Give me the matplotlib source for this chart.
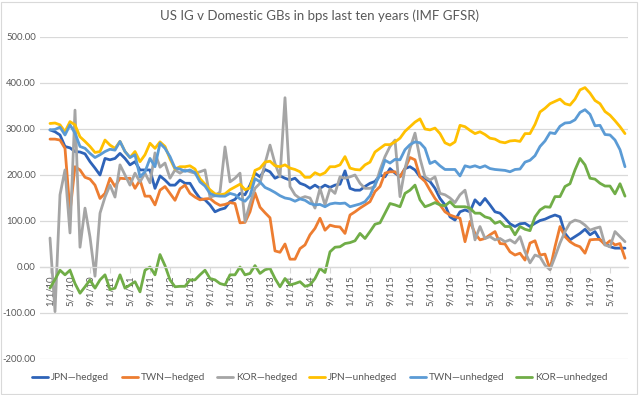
import matplotlib
matplotlib.use("Agg")
import matplotlib.pyplot as plt
import pandas as pd
from matplotlib.patches import Rectangle

plt.rcParams['font.family'] = ['Lato', 'DejaVu Sans']

dates = pd.date_range('2010-01-01', periods=116, freq='MS')

jpn_hedged = [298, 294, 287, 262, 259, 251, 250, 246, 229, 215, 200, 236, 233, 236, 247, 236, 222, 229, 211, 211,
              211, 171, 198, 189, 178, 178, 189, 182, 182, 164, 149, 146, 135, 120, 125, 128, 142, 147, 160, 157,
              178, 204, 196, 212, 207, 193, 198, 193, 189, 193, 182, 178, 171, 178, 171, 178, 173, 178, 180, 209,
              171, 167, 167, 175, 182, 186, 200, 196, 214, 204, 196, 214, 218, 211, 196, 193, 186, 171, 149, 135,
              109, 102, 120, 124, 120, 146, 135, 149, 135, 120, 117, 106, 94, 88, 94, 95, 88, 95, 101, 104,
              109, 113, 109, 73, 59, 66, 73, 82, 70, 77, 59, 51, 44, 41, 41, 41]

twn_hedged = [278, 278, 276, 258, 120, 218, 211, 195, 191, 178, 149, 160, 193, 175, 193, 192, 193, 171, 189, 154,
              154, 135, 167, 175, 160, 145, 170, 178, 160, 152, 146, 148, 149, 140, 134, 136, 140, 138, 96, 97,
              120, 161, 130, 118, 107, 35, 32, 50, 17, 17, 40, 48, 70, 84, 106, 80, 91, 88, 87, 73,
              113, 120, 128, 135, 142, 164, 175, 204, 207, 207, 196, 214, 238, 233, 196, 186, 167, 149, 135, 120,
              113, 109, 106, 55, 99, 73, 59, 62, 70, 77, 51, 50, 33, 26, 30, 15, 52, 57, 26, 28,
              -5, 44, 88, 66, 55, 48, 44, 30, 59, 60, 60, 48, 57, 48, 51, 19]

kor_hedged = [63, -97, 157, 211, 74, 341, 43, 128, 65, -20, 117, 152, 178, 152, 222, 200, 178, 204, 185, 204,
              183, 248, 217, 226, 193, 211, 204, 211, 207, 204, 207, 211, 152, 155, 163, 261, 185, 193, 204, 99,
              138, 171, 182, 225, 265, 225, 196, 368, 175, 157, 149, 153, 150, 128, 171, 135, 170, 160, 196, 193,
              196, 200, 182, 171, 171, 175, 211, 240, 262, 276, 153, 214, 258, 291, 236, 196, 189, 196, 160, 157,
              150, 140, 157, 167, 120, 59, 88, 62, 66, 59, 62, 55, 59, 52, 66, 33, 9, 26, 22, 4,
              -6, 22, 52, 77, 96, 102, 99, 91, 80, 84, 87, 48, 44, 77, 66, 55]

jpn_unhedged = [312, 313, 309, 294, 316, 309, 283, 273, 262, 249, 251, 276, 265, 258, 273, 251, 238, 251, 229, 244,
                269, 258, 272, 262, 235, 213, 218, 218, 220, 213, 192, 180, 168, 159, 157, 159, 168, 174, 180, 168,
                172, 210, 215, 228, 230, 220, 218, 222, 215, 212, 207, 195, 195, 205, 200, 205, 218, 218, 222, 240,
                215, 212, 211, 222, 228, 250, 258, 266, 266, 272, 280, 295, 305, 315, 322, 300, 298, 302, 290, 270,
                265, 272, 308, 305, 297, 290, 294, 288, 280, 278, 272, 270, 274, 275, 273, 290, 290, 310, 337, 345,
                355, 360, 365, 355, 352, 365, 385, 390, 378, 362, 355, 338, 330, 318, 305, 290]

twn_unhedged = [298, 299, 304, 287, 309, 291, 262, 258, 247, 238, 244, 251, 256, 254, 273, 251, 238, 244, 196, 207,
                236, 218, 269, 258, 240, 215, 213, 208, 211, 205, 185, 176, 160, 155, 154, 154, 160, 157, 148, 143,
                155, 192, 185, 173, 168, 162, 155, 150, 148, 143, 148, 145, 138, 135, 136, 131, 137, 139, 138, 139,
                131, 134, 137, 142, 155, 180, 200, 232, 226, 234, 233, 255, 266, 272, 270, 258, 225, 230, 220, 212,
                212, 212, 198, 220, 217, 220, 216, 220, 214, 212, 211, 210, 207, 212, 213, 228, 232, 242, 262, 274,
                292, 290, 306, 313, 314, 320, 336, 342, 332, 307, 308, 288, 287, 276, 255, 218]

kor_unhedged = [-46, -27, -7, -17, -7, -36, -57, -43, -28, -46, -28, -17, -49, -46, -17, -46, -39, -32, -54, -7,
                0, -17, 27, 3, -28, -43, -42, -42, -28, -28, -17, -7, -25, -28, -36, -39, -17, -17, 0, -17,
                -14, 3, -14, -6, -3, -25, -43, -25, -39, -36, -32, -42, -39, -25, -3, -12, 33, 43, 44, 51,
                53, 57, 73, 62, 77, 93, 96, 117, 138, 135, 131, 160, 167, 178, 146, 131, 135, 140, 135, 133,
                142, 131, 131, 131, 128, 117, 117, 109, 106, 95, 99, 88, 88, 70, 88, 82, 79, 109, 124, 131,
                130, 153, 153, 175, 181, 211, 236, 222, 193, 191, 182, 176, 176, 159, 181, 154]

series_names = ['JPN\u2014hedged', 'TWN\u2014hedged', 'KOR\u2014hedged',
                'JPN\u2014unhedged', 'TWN\u2014unhedged', 'KOR\u2014unhedged']
series_values = [jpn_hedged, twn_hedged, kor_hedged, jpn_unhedged, twn_unhedged, kor_unhedged]
colors = ['#2E63B8', '#ED7D31', '#A5A5A5', '#FFC000', '#5B9BD5', '#70AD47']

y_ticks = [-200, -100, 0, 100, 200, 300, 400, 500]

fig = plt.figure(figsize=(6.4, 3.95), dpi=100)
ax = fig.add_axes([40/640, 1-359/395, 588/640, 322/395])

x = list(range(len(dates)))
for name, vals, c in zip(series_names, series_values, colors):
    ax.plot(x, vals, color=c, lw=2.0, label=name, solid_joinstyle='round', solid_capstyle='round')

ax.set_ylim(-200, 500)
ax.set_xlim(-2, 115.6)
ax.set_yticks(y_ticks)
ax.set_yticklabels([f'{v:.2f}' for v in y_ticks], fontsize=6.8, color='#595959')
ax.yaxis.grid(True, color='#D9D9D9', lw=0.9)
ax.set_axisbelow(True)
for s in ['left', 'right', 'top']:
    ax.spines[s].set_visible(False)
ax.spines['bottom'].set_position(('data', 0))
ax.spines['bottom'].set_color('#D9D9D9')
ax.spines['bottom'].set_linewidth(0.9)
ax.tick_params(axis='y', length=0, pad=3)

tick_idx = list(range(0, len(dates), 4))
tick_labels = [f'{d.month}/{d.day}/{d.strftime("%y")}' for d in dates[tick_idx]]
ax.set_xticks(tick_idx)
ax.set_xticklabels(tick_labels, rotation=90, fontsize=6.8, color='#595959')
ax.tick_params(axis='x', length=4, color='#D9D9D9', pad=2)

fig.text(0.5, 1-16/395, 'US IG v Domestic GBs in bps last ten years (IMF GFSR)',
         ha='center', va='center', fontsize=9.5, color='#595959')

leg = fig.legend(loc='center', bbox_to_anchor=(0.5, 1-378/395), ncol=6, frameon=False,
                 fontsize=7.2, handlelength=1.6, handletextpad=0.3, columnspacing=1.2)
for t in leg.get_texts():
    t.set_color('#595959')

fig.patches.append(Rectangle((0.002, 0.002), 0.994, 0.994, transform=fig.transFigure,
                             fill=False, edgecolor='#D9D9D9', lw=0.8))

fig.savefig('out.png', dpi=100, facecolor='white')
